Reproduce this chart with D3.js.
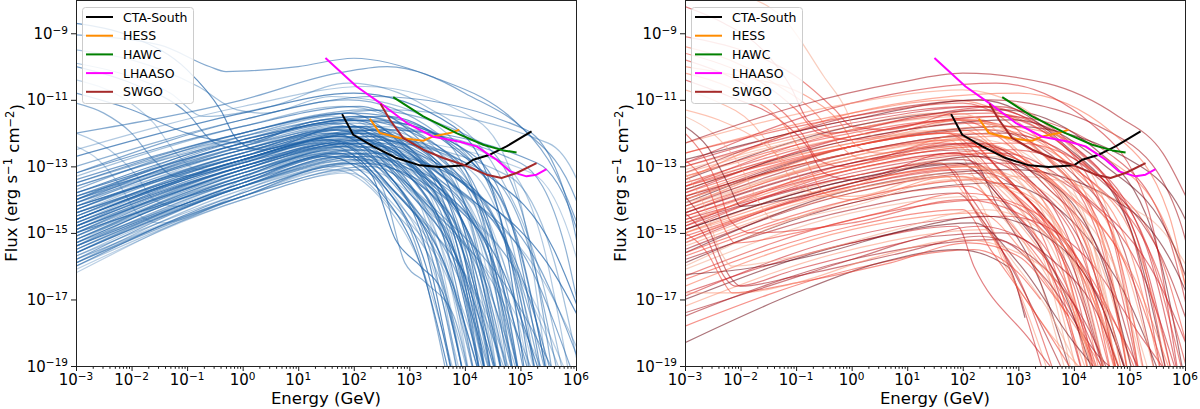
<!DOCTYPE html>
<html><head><meta charset="utf-8">
<script src="https://cdn.jsdelivr.net/npm/d3@7"></script>
<style>body{margin:0;background:#fff}svg{display:block}text{font-family:"DejaVu Sans",sans-serif;fill:#000}</style>
</head><body><svg id="c" width="1200" height="409"></svg>
<script>
// ---------- DATA (log10 E [GeV], log10 flux [erg s^-1 cm^-2]) ----------
const energyTicks = [-3,-2,-1,0,1,2,3,4,5,6];
const fluxTicks = [-19,-17,-15,-13,-11,-9];
const instruments = ["CTA-South","HESS","HAWC","LHAASO","SWGO"];

const ctaSouth = [[1.79,-11.43],[1.99,-12.05],[2.35,-12.40],[2.77,-12.75],[3.19,-12.97],[3.55,-13.02],[4.0,-12.97],[4.15,-12.80],[4.45,-12.65],[4.75,-12.4],[5.2,-11.95]];
const hess = [[2.29,-11.57],[2.47,-12.0],[2.83,-12.15],[3.25,-12.23],[3.43,-12.10],[3.73,-12.0],[3.90,-11.9]];
const hawc = [[2.71,-10.92],[3.25,-11.5],[3.85,-12.0],[4.33,-12.35],[4.69,-12.52],[4.93,-12.58]];
const lhaaso = [[1.49,-9.74],[2.05,-10.6],[2.47,-11.09],[2.95,-11.69],[3.43,-12.11],[3.91,-12.26],[4.21,-12.40],[4.57,-12.80],[4.81,-13.15],[5.11,-13.30],[5.29,-13.25],[5.47,-13.08]];
const swgo = [[2.48,-11.12],[2.65,-11.6],[2.89,-12.15],[3.25,-12.5],[3.61,-12.75],[3.97,-12.95],[4.39,-13.25],[4.66,-13.35],[4.93,-13.2],[5.29,-12.9]];

// left panel spectra (x,y pairs flattened)
const blueCurves = [
[-3,-13.3,0,-11.8,1.8,-11.2,3.3,-12.2,4.1,-14.7,4.6,-19.5],
[-3,-13.5,0,-12.0,2.0,-11.4,3.9,-12.4,4.7,-14.9,5.2,-19.5],
[-3,-13.6,0,-12.1,1.6,-11.5,2.8,-12.5,3.6,-15.0,4.1,-19.5],
[-3,-13.7,0,-12.0,2.2,-11.3,4.3,-12.3,5.1,-14.8,5.6,-19.5],
[-3,-13.8,0,-12.3,1.9,-11.6,3.1,-12.6,3.9,-15.1,4.4,-19.5],
[-3,-13.9,0,-12.4,1.5,-11.7,2.6,-12.7,3.4,-15.2,3.9,-19.5],
[-3,-14.0,0,-12.2,2.1,-11.5,3.6,-12.5,4.4,-15.0,4.9,-19.5],
[-3,-14.0,0,-12.5,1.7,-11.8,3.0,-12.8,3.8,-15.3,4.3,-19.5],
[-3,-14.1,0,-12.3,2.3,-11.6,4.1,-12.6,4.9,-15.1,5.4,-19.5],
[-3,-14.1,0,-12.6,1.8,-11.9,2.7,-12.9,3.5,-15.4,4.0,-19.5],
[-3,-14.2,0,-12.4,2.0,-11.7,3.4,-12.7,4.2,-15.2,4.7,-19.5],
[-3,-14.2,0,-12.7,1.6,-12.0,2.5,-13.0,3.3,-15.5,3.8,-19.5],
[-3,-14.3,0,-12.5,2.4,-11.8,4.6,-12.8,5.4,-15.3,5.9,-19.5],
[-3,-14.3,0,-12.6,1.9,-11.9,3.2,-12.9,4.0,-15.4,4.5,-19.5],
[-3,-14.4,0,-12.6,2.2,-11.8,3.7,-12.8,4.5,-15.3,5.0,-19.5],
[-3,-14.4,0,-12.8,1.7,-12.1,2.9,-13.1,3.7,-15.6,4.2,-19.5],
[-3,-14.5,0,-12.7,2.0,-12.0,3.5,-13.0,4.3,-15.5,4.8,-19.5],
[-3,-14.5,0,-12.7,2.5,-11.9,5.0,-12.9,5.8,-15.4,6.3,-19.5],
[-3,-14.6,0,-12.8,1.8,-12.1,3.1,-13.1,3.9,-15.6,4.4,-19.5],
[-3,-14.6,0,-12.8,2.1,-12.0,4.0,-13.0,4.8,-15.5,5.3,-19.5],
[-3,-14.7,0,-12.9,1.6,-12.2,2.6,-13.2,3.4,-15.7,3.9,-19.5],
[-3,-14.7,0,-12.8,2.3,-12.0,3.3,-13.0,4.1,-15.5,4.6,-19.5],
[-3,-14.8,0,-13.0,1.9,-12.2,3.8,-13.2,4.6,-15.7,5.1,-19.5],
[-3,-14.8,0,-12.9,2.0,-12.1,2.8,-13.1,3.6,-15.6,4.1,-19.5],
[-3,-14.9,0,-13.0,2.2,-12.2,4.4,-13.2,5.2,-15.7,5.7,-19.5],
[-3,-14.9,0,-13.1,1.7,-12.3,3.0,-13.3,3.8,-15.8,4.3,-19.5],
[-3,-15.0,0,-13.1,2.0,-12.3,3.6,-13.3,4.4,-15.8,4.9,-19.5],
[-3,-15.0,0,-13.0,2.4,-12.1,4.2,-13.1,5.0,-15.6,5.5,-19.5],
[-3,-15.1,0,-13.2,1.8,-12.4,2.7,-13.4,3.5,-15.9,4.0,-19.5],
[-3,-15.1,0,-13.1,2.1,-12.3,3.4,-13.3,4.2,-15.8,4.7,-19.5],
[-3,-15.2,0,-13.2,1.9,-12.4,3.9,-13.4,4.7,-15.9,5.2,-19.5],
[-3,-15.2,0,-13.2,2.3,-12.3,3.2,-13.3,4.0,-15.8,4.5,-19.5],
[-3,-15.3,0,-13.3,1.7,-12.5,2.5,-13.5,3.3,-16.0,3.8,-19.5],
[-3,-15.3,0,-13.3,2.0,-12.4,3.7,-13.4,4.5,-15.9,5.0,-19.5],
[-3,-15.4,0,-13.4,2.2,-12.5,3.1,-13.5,3.9,-16.0,4.4,-19.5],
[-3,-15.4,0,-13.2,2.5,-12.3,4.8,-13.3,5.6,-15.8,6.1,-19.5],
[-3,-15.5,0,-13.5,1.9,-12.6,3.5,-13.6,4.3,-16.1,4.8,-19.5],
[-3,-15.5,0,-13.4,2.1,-12.5,2.9,-13.5,3.7,-16.0,4.2,-19.5],
[-3,-15.6,0,-13.5,2.3,-12.6,4.1,-13.6,4.9,-16.1,5.4,-19.5],
[-3,-15.6,0,-13.6,1.8,-12.7,3.3,-13.7,4.1,-16.2,4.6,-19.5],
[-3,-15.7,0,-13.6,2.0,-12.7,2.65,-13.7,3.45,-16.2,3.95,-19.5],
[-3,-15.8,0,-13.6,2.2,-12.7,3.7,-13.7,4.5,-16.2,5.0,-19.5],
[-3,-15.9,0,-13.7,2.4,-12.8,3.1,-13.8,3.9,-16.3,4.4,-19.5],
[-3,-16.0,0,-13.8,2.1,-12.9,3.6,-13.9,4.4,-16.4,4.9,-19.5],
[-3,-16.2,0,-13.9,2.3,-12.9,4.0,-13.9,4.8,-16.4,5.3,-19.5],
[-3,-13.0,0,-11.6,1.9,-11.0,3.5,-12.0,4.3,-14.5,4.8,-19.5],
[-3,-12.7,0,-11.4,2.0,-10.8,3.8,-11.8,4.6,-14.3,5.1,-19.5],
[-3,-12.5,0,-11.2,2.2,-10.6,4.2,-11.6,5.0,-14.1,5.5,-19.5],
[-3,-13.2,0,-11.6,2.4,-10.9,5.1,-11.9,5.9,-14.4,6.4,-19.5],
[-3,-14.0,0,-12.1,2.6,-11.3,5.5,-12.3,6.3,-14.8,6.8,-19.5],
[-3,-14.8,0,-12.8,2.6,-11.9,5.3,-12.9,6.1,-15.4,6.6,-19.5],
[-3,-15.3,0,-13.1,2.4,-12.2,5.2,-13.2,6.0,-15.7,6.5,-19.5],
[-3,-14.4,0,-12.9,1.4,-12.3,2.4,-13.3,3.2,-15.8,3.7,-19.5],
[-3,-15.0,0,-13.4,1.5,-12.7,2.45,-13.7,3.25,-16.2,3.75,-19.5],
[-3,-15.8,0,-13.9,1.6,-13.1,2.55,-14.1,3.35,-16.6,3.85,-19.5],
[-3,-14.6,0,-12.8,2.2,-12.0,3.0,-13.0,3.8,-15.5,4.3,-19.5],
[-3,-15.2,0,-13.3,2.0,-12.5,3.3,-13.5,4.1,-16.0,4.6,-19.5],
[-3,-13.9,0,-12.3,2.0,-11.6,3.7,-12.6,4.5,-15.1,5.0,-19.5],
[-3,-14.5,0,-12.9,1.8,-12.2,3.6,-13.2,4.4,-15.7,4.9,-19.5],
[-3,-15.6,0,-13.6,2.0,-12.8,2.9,-13.8,3.7,-16.3,4.2,-19.5],
[-3,-14.2,0,-12.7,1.5,-12.2,2.7,-13.7,3.7,-16.2,4.3,-19.5],
[-3,-14.8,0,-13.2,1.6,-12.6,2.8,-14.1,3.8,-16.6,4.4,-19.5],
[-3,-13.6,0,-12.2,1.8,-11.7,3.0,-13.2,4.1,-15.7,4.7,-19.5],
[-3,-15.3,0,-13.6,1.9,-12.9,3.1,-14.4,4.2,-16.9,4.8,-19.5],
[-3,-14.0,0,-12.4,2.0,-11.8,3.3,-13.3,4.5,-15.8,5.2,-19.5],
[-3,-15.8,0,-13.9,2.0,-13.1,3.2,-14.6,4.3,-17.1,4.9,-19.5],
[-3,-13.9,0,-12.5,1.7,-11.9,2.9,-13.4,3.9,-15.9,4.5,-19.5],
[-3,-14.6,0,-12.9,2.2,-12.2,3.5,-13.7,4.7,-16.2,5.4,-19.5],
[-3,-15.0,0,-13.2,2.3,-12.4,3.7,-13.9,5.0,-16.4,5.8,-19.5],
[-3,-14.3,0,-12.6,2.4,-11.9,3.9,-13.4,5.3,-15.9,6.2,-19.5],
[-3,-15.5,0,-13.6,2.1,-12.8,3.4,-14.3,4.6,-16.8,5.3,-19.5],
[-3,-13.4,0,-12.0,1.9,-11.4,3.2,-12.9,4.4,-15.4,5.0,-19.5],
[-3,-16.1,0,-14.0,2.2,-13.1,3.5,-14.6,4.8,-17.1,5.5,-19.5],
[-3,-14.9,0,-13.1,1.8,-12.4,2.9,-13.9,3.9,-16.4,4.5,-19.5],
[-3,-13.8,0,-12.2,2.6,-11.5,4.2,-13.0,5.6,-15.5,6.5,-19.5],
[-3,-15.1,0,-13.3,2.5,-12.4,4.0,-13.9,5.4,-16.4,6.3,-19.5],
[-3,-14.4,0,-12.8,1.6,-12.2,2.6,-13.5,3.5,-15.8,4.0,-19.5],
[-3,-15.7,0,-13.8,1.7,-13.0,2.7,-14.3,3.6,-16.6,4.1,-19.5],
[-3,-14.1,0,-12.5,2.1,-11.8,3.6,-13.3,4.9,-15.8,5.6,-19.5],
[-3,-15.4,0,-13.5,2.4,-12.6,3.8,-14.1,5.1,-16.6,5.9,-19.5],
[-3,-13.5,0,-12.1,2.2,-11.5,3.6,-13.0,4.8,-15.5,5.5,-19.5],
[-3,-14.7,0,-13.0,2.0,-12.3,3.0,-13.8,4.0,-16.3,4.6,-19.5],
[-3,-16.0,0,-14.0,1.9,-13.2,2.9,-14.5,3.8,-16.8,4.3,-19.5],
[-3,-14.5,0,-12.8,2.3,-12.1,3.8,-13.6,5.2,-16.1,6.0,-19.5],
[-3,-15.2,0,-13.4,2.0,-12.6,3.3,-14.1,4.4,-16.6,5.0,-19.5],
[-3,-13.2,0,-11.8,2.1,-11.2,3.5,-12.7,4.7,-15.2,5.3,-19.5],
[-3,-14.0,0,-12.5,1.9,-11.9,3.1,-13.4,4.2,-15.9,4.8,-19.5],
[-3,-15.9,0,-13.9,2.3,-13.0,3.6,-14.5,4.9,-17.0,5.7,-19.5],
[-3,-14.8,0,-13.0,2.5,-12.2,4.1,-13.7,5.6,-16.2,6.6,-19.5],
[-3,-14.3,0,-12.7,1.8,-12.0,2.9,-13.5,3.9,-16.0,4.4,-19.5],
[-3,-9.05,-1.5,-9.35,-0.6,-10.0,-0.3,-10.15,1.0,-10.0,2.0,-9.75,3.4,-10.3,5.0,-11.8,6.0,-14.0,6.3,-15.5],
[-3,-9.5,-2,-9.8,-0.8,-10.6,-0.1,-11.3,0.4,-11.4,1.6,-10.9,2.6,-11.1,4.0,-12.6,4.8,-15.0,5.3,-19.5],
[-3,-10.0,-2,-10.5,-1.0,-11.4,-0.5,-12.3,0,-12.5,1.5,-11.9,3.0,-12.6,3.8,-15.0,4.3,-19.5],
[-3,-10.4,-2.2,-10.9,-1.6,-11.7,-1.2,-12.6,-0.8,-13.1,1.0,-12.3,2.0,-12.0,3.4,-12.9,4.2,-15.4,4.7,-19.5],
[-3,-11.1,-2.5,-11.4,-2.0,-12.0,-1.6,-12.8,-1.2,-13.3,0.5,-12.6,2.1,-11.9,3.6,-12.8,4.4,-15.3,4.9,-19.5],
[-3,-8.7,-2,-9.1,-1.0,-10.1,-0.4,-11.3,-0.1,-12.2,0.3,-12.5,1.8,-11.8,3.2,-12.5,4.0,-15.0,4.5,-19.5],
[-3,-12.0,-2.4,-12.5,-1.9,-13.3,-1.6,-14.0,-1.2,-14.2,0.5,-13.0,2.0,-12.5,3.4,-13.3,4.2,-15.8,4.7,-19.5],
[-3,-12.0,0,-11.0,1.7,-10.2,2.6,-10.0,4.0,-10.8,5.5,-12.8,6.2,-15.5],
[-3,-9.9,-2.2,-10.2,-1.3,-10.8,-0.7,-11.5,0.5,-11.2,1.9,-10.5,3.3,-11.2,4.6,-13.2,5.4,-16.5,5.8,-19.5],
[-3,-10.8,-2,-11.3,-1,-12.0,0,-12.3,1.5,-11.6,2.8,-11.7,4.2,-13.0,5.0,-15.5,5.5,-19.5],
[-3,-12.4,-2.6,-12.8,-2.2,-13.6,-1.9,-14.4,-1.5,-14.7,0.5,-13.4,2.1,-12.7,3.3,-13.5,4.0,-15.7,4.4,-19.5],
[-3,-15.9,0,-13.9,1.9,-12.9,2.5,-13.6,2.92,-15.9,3.3,-16.5,3.8,-17.5,4.1,-19.5],
[-3,-15.4,0,-13.5,1.7,-12.6,2.3,-13.2,2.75,-15.2,3.2,-16.0,3.6,-16.8,4.0,-19.5]
];

// right panel spectra
const redCurves = [
[-3,-12.6,0,-11.4,1.8,-11.0,3.4,-12.2,4.4,-14.6,5.0,-19.5],
[-3,-12.9,0,-11.6,2.2,-11.2,4.0,-12.4,5.0,-14.8,5.6,-19.5],
[-3,-13.0,0,-11.8,1.5,-11.4,2.7,-12.6,3.7,-15.0,4.3,-19.5],
[-3,-13.2,0,-11.5,2.5,-11.0,4.9,-12.2,5.9,-14.6,6.5,-19.5],
[-3,-13.3,0,-12.0,1.9,-11.6,3.1,-12.8,4.1,-15.2,4.7,-19.5],
[-3,-13.4,0,-11.8,2.7,-11.3,4.4,-12.5,5.4,-14.9,6.0,-19.5],
[-3,-13.5,0,-12.3,1.6,-11.9,2.4,-13.1,3.4,-15.5,4.0,-19.5],
[-3,-13.6,0,-12.2,2.3,-11.7,3.6,-12.9,4.6,-15.3,5.2,-19.5],
[-3,-13.7,0,-12.3,2.0,-11.9,2.9,-13.1,3.9,-15.5,4.5,-19.5],
[-3,-13.8,0,-12.1,2.8,-11.5,4.7,-12.7,5.7,-15.1,6.3,-19.5],
[-3,-13.9,0,-12.6,1.7,-12.2,2.5,-13.4,3.5,-15.8,4.1,-19.5],
[-3,-14.0,0,-12.4,2.4,-11.9,3.9,-13.1,4.9,-15.5,5.5,-19.5],
[-3,-14.0,0,-12.6,2.0,-12.2,2.8,-13.4,3.8,-15.8,4.4,-19.5],
[-3,-14.1,0,-12.4,2.9,-11.8,5.2,-13.0,6.2,-15.4,6.8,-19.5],
[-3,-14.2,0,-12.8,1.8,-12.4,2.3,-13.6,3.3,-16.0,3.9,-19.5],
[-3,-14.3,0,-12.8,2.2,-12.3,3.2,-13.5,4.2,-15.9,4.8,-19.5],
[-3,-14.4,0,-12.7,2.6,-12.1,4.2,-13.3,5.2,-15.7,5.8,-19.5],
[-3,-14.5,0,-13.1,1.9,-12.6,2.6,-13.8,3.6,-16.2,4.2,-19.5],
[-3,-14.6,0,-13.0,2.4,-12.4,3.5,-13.6,4.5,-16.0,5.1,-19.5],
[-3,-14.7,0,-13.3,2.0,-12.8,3.0,-14.0,4.0,-16.4,4.6,-19.5],
[-3,-14.8,0,-12.9,3.0,-12.3,4.6,-13.5,5.6,-15.9,6.2,-19.5],
[-3,-14.9,0,-13.4,2.2,-12.9,2.6,-14.1,3.4,-16.5,4.0,-19.5],
[-3,-15.0,0,-13.3,2.5,-12.7,3.8,-13.9,4.8,-16.3,5.4,-19.5],
[-3,-15.1,0,-13.6,1.8,-13.1,2.2,-14.3,3.1,-16.7,3.7,-19.5],
[-3,-15.2,0,-13.5,2.3,-13.0,3.3,-14.2,4.3,-16.6,4.9,-19.5],
[-3,-15.3,0,-13.5,2.7,-12.9,4.3,-14.1,5.3,-16.5,5.9,-19.5],
[-3,-15.4,0,-13.8,2.0,-13.3,2.7,-14.5,3.7,-16.9,4.3,-19.5],
[-3,-15.5,0,-13.8,2.4,-13.2,3.4,-14.4,4.4,-16.8,5.0,-19.5],
[-3,-15.7,0,-14.1,2.1,-13.6,2.9,-14.8,3.9,-17.2,4.5,-19.5],
[-3,-15.9,0,-14.1,2.6,-13.5,4.0,-14.7,5.0,-17.1,5.6,-19.5],
[-3,-16.1,0,-14.4,2.2,-13.9,2.6,-15.1,3.6,-17.5,4.2,-19.5],
[-3,-16.3,0,-14.6,2.5,-14.0,3.7,-15.2,4.7,-17.6,5.3,-19.5],
[-3,-16.6,0,-14.9,2.3,-14.4,3.1,-15.6,4.1,-18.0,4.7,-19.5],
[-3,-16.9,0,-15.1,2.8,-14.5,4.2,-15.7,5.2,-18.1,5.8,-19.5],
[-3,-17.2,0,-15.5,2.4,-14.9,2.8,-16.1,3.8,-18.5,4.4,-19.5],
[-3,-17.5,0,-15.8,2.6,-15.2,3.5,-16.4,4.5,-18.8,5.1,-19.5],
[-3,-17.8,0,-16.1,2.2,-15.5,3.0,-16.2,3.4,-17.0],
[-3,-18.3,-1,-16.8,0.5,-15.9,1.9,-15.5,2.8,-16.0,3.12,-17.55],
[-3,-13.1,0,-11.9,2.0,-11.5,3.3,-12.7,4.3,-15.1,4.9,-19.5],
[-3,-13.6,0,-11.9,2.5,-11.4,4.1,-12.6,5.1,-15.0,5.7,-19.5],
[-3,-14.2,0,-12.4,2.7,-11.8,4.8,-13.0,5.8,-15.4,6.4,-19.5],
[-3,-14.6,0,-13.3,1.6,-12.9,2.0,-13.6,2.9,-16.3,3.5,-19.5],
[-3,-15.0,0,-13.7,1.7,-13.3,2.1,-14.0,3.0,-16.7,3.6,-19.5],
[-3,-14.4,0,-12.9,2.1,-12.5,3.0,-13.7,4.0,-16.1,4.6,-19.5],
[-3,-13.8,0,-12.4,1.8,-12.0,2.7,-13.2,3.7,-15.6,4.3,-19.5],
[-3,-15.6,0,-13.7,2.9,-13.1,5.0,-14.3,6.0,-16.7,6.6,-19.5],
[-3,-16.0,0,-14.0,3.0,-13.3,5.3,-14.5,6.3,-16.9,6.9,-19.5],
[-3,-14.9,0,-13.1,2.9,-12.5,4.5,-13.7,5.5,-16.1,6.1,-19.5],
[-3,-13.4,0,-11.4,3.0,-10.8,4.7,-12.0,5.7,-14.4,6.3,-19.5],
[-3,-12.9,0,-11.1,2.6,-10.5,4.3,-11.7,5.3,-14.1,5.9,-19.5],
[-3,-12.3,0,-11.1,2.0,-10.7,3.6,-11.9,4.6,-14.3,5.2,-19.5],
[-3,-15.8,0,-14.3,1.9,-13.8,2.3,-14.5,3.3,-17.4,3.9,-19.5],
[-3,-16.4,0,-14.8,2.0,-14.3,2.5,-15.5,3.5,-17.9,4.1,-19.5],
[-3,-17.0,0,-15.3,2.2,-14.7,3.0,-15.9,4.0,-18.3,4.6,-19.5],
[-3,-14.3,0,-12.7,2.3,-12.2,3.7,-13.4,4.7,-15.8,5.3,-19.5],
[-3,-15.2,0,-13.6,2.1,-13.1,2.9,-14.3,3.9,-16.7,4.5,-19.5],
[-3,-13.9,0,-12.4,2.6,-11.9,4.0,-13.1,5.0,-15.5,5.6,-19.5],
[-3,-16.8,0,-15.3,1.9,-14.8,2.2,-16.0,3.2,-18.2,3.8,-19.5],
[-3,-13.3,0,-12.1,2.2,-11.6,3.6,-12.9,4.8,-15.4,5.5,-19.5],
[-3,-13.9,0,-12.6,2.0,-12.1,3.2,-13.4,4.3,-15.9,5.0,-19.5],
[-3,-14.5,0,-13.0,2.4,-12.4,3.8,-13.7,5.0,-16.2,5.7,-19.5],
[-3,-12.8,0,-11.6,2.3,-11.0,3.8,-12.3,5.0,-14.8,5.7,-19.5],
[-3,-14.1,0,-12.8,1.8,-12.4,2.8,-13.7,3.8,-16.2,4.4,-19.5],
[-3,-13.5,0,-12.1,2.6,-11.5,4.1,-12.8,5.3,-15.3,6.0,-19.5],
[-3,-15.0,0,-13.5,2.1,-13.0,3.2,-14.3,4.3,-16.8,4.9,-19.5],
[-3,-14.8,0,-13.2,2.7,-12.6,4.2,-13.9,5.5,-16.4,6.3,-19.5],
[-3,-13.2,0,-11.9,1.9,-11.4,3.1,-12.7,4.2,-15.2,4.8,-19.5],
[-3,-14.4,0,-12.9,2.3,-12.3,3.5,-13.6,4.6,-16.1,5.2,-19.5],
[-3,-15.6,0,-14.0,2.3,-13.4,3.5,-14.7,4.6,-17.2,5.2,-19.5],
[-3,-13.7,0,-12.2,2.9,-11.6,4.5,-12.9,5.8,-15.4,6.6,-19.5],
[-3,-14.0,0,-12.6,2.1,-12.1,3.0,-13.4,4.0,-15.9,4.6,-19.5],
[-3,-12.6,0,-11.5,2.0,-11.1,3.3,-12.4,4.4,-14.9,5.0,-19.5],
[-3,-14.7,0,-13.1,2.5,-12.6,3.9,-13.9,5.1,-16.4,5.8,-19.5],
[-3,-13.0,0,-11.7,2.4,-11.2,3.9,-12.5,5.1,-15.0,5.8,-19.5],
[-3,-15.3,0,-13.7,2.0,-13.2,2.9,-14.5,3.9,-17.0,4.5,-19.5],
[-3,-14.2,0,-12.6,2.7,-12.0,4.4,-13.3,5.6,-15.8,6.4,-19.5],
[-3,-13.6,0,-12.4,1.7,-12.0,2.6,-13.3,3.6,-15.8,4.2,-19.5],
[-3,-14.9,0,-13.4,1.9,-12.9,2.8,-14.2,3.8,-16.7,4.4,-19.5],
[-3,-7.3,-2,-7.8,-1.2,-8.6,-0.5,-10.3,-0.1,-11.3,0.05,-11.9,0.5,-12.1,2.0,-11.6,3.2,-12.3,4.2,-14.5,4.8,-19.5],
[-3,-9.1,-2,-9.5,-1.0,-10.3,-0.3,-11.3,0,-11.8,0.6,-11.9,2.2,-11.3,3.5,-12.0,4.6,-14.6,5.2,-19.5],
[-3,-9.4,-2.2,-9.8,-1.3,-10.6,-0.6,-11.5,-0.2,-12.4,0.3,-12.8,2.0,-12.2,3.3,-13.0,4.3,-15.5,4.8,-19.5],
[-3,-10.4,-2.2,-10.9,-1.3,-11.6,-0.8,-12.4,-0.5,-13.2,0,-13.4,1.8,-12.6,3.0,-13.2,4.0,-15.6,4.6,-19.5],
[-3,-10.7,-2.5,-11.0,-1.8,-11.7,-1.3,-12.8,-1.0,-13.6,-0.6,-13.8,1.5,-12.9,2.8,-13.3,3.8,-15.8,4.3,-19.5],
[-3,-13.9,-2.6,-14.8,-2.2,-16.3,-2.0,-16.6,-1,-16.3,0.9,-15.6,2.3,-15.1,3.3,-15.8,4.3,-18.0,4.7,-19.5],
[-3,-12.8,-2.6,-13.6,-2.25,-15.0,-2.1,-15.3,-1,-15.0,0.5,-14.4,2.0,-13.8,3.2,-14.3,4.2,-16.5,4.7,-19.5],
[-3,-16.25,-2,-16.1,-0.5,-15.6,1,-14.9,2.4,-14.5,3.5,-15.1,4.5,-17.2,5.0,-19.5],
[-3,-11.5,-2.5,-12.0,-2.0,-13.0,-1.7,-14.0,-1.4,-14.6,0,-14.2,1.8,-13.4,3.0,-13.8,4.1,-16.2,4.6,-19.5],
[-3,-12.0,-2.7,-12.6,-2.4,-13.6,-2.2,-14.6,-1.8,-15.0,0,-14.7,2,-14.0,3.1,-14.5,4.0,-16.6,4.4,-19.5],
[-3,-10.0,-2,-10.3,-0.8,-10.9,-0.2,-11.7,0.1,-12.4,0.5,-12.6,2.1,-12.0,3.4,-12.6,4.5,-15.1,5.0,-19.5],
[-3,-8.2,-2.3,-8.7,-1.6,-9.5,-1.1,-10.6,-0.8,-11.6,-0.4,-12.0,1.2,-11.5,2.6,-11.2,4.0,-12.4,5.3,-15.4,5.9,-19.5],
[-3,-11.3,-2.4,-11.6,-1.6,-12.3,-1.0,-13.2,-0.6,-13.9,0,-13.9,2,-13.0,3.2,-13.5,4.4,-16.0,4.9,-19.5],
[-3,-12.3,-1,-11.2,0.8,-10.5,2.0,-10.2,3.5,-10.5,4.8,-11.5,5.6,-12.6,6.1,-14.2],
[-3,-15.0,-2.6,-15.6,-2.3,-16.5,-2.15,-16.8,-1,-16.5,0.7,-15.9,2.1,-15.3,3.0,-15.7,3.6,-16.8,3.9,-17.5],
[-3,-11.8,-2.6,-12.4,-2.2,-13.6,-2.0,-14.2,-1.2,-14.0,0.5,-13.3,2.2,-12.7,3.4,-13.3,4.5,-15.8,5.1,-19.5],
[-3,-13.2,-2.7,-14.0,-2.35,-15.6,-2.15,-16.0,-1.0,-15.7,0.8,-14.9,2.4,-14.3,3.4,-14.9,4.4,-17.2,4.9,-19.5],
[-3,-9.8,-2.2,-10.3,-1.5,-11.0,-0.9,-12.0,-0.6,-12.8,-0.2,-13.0,1.6,-12.3,3.0,-12.8,4.2,-15.3,4.8,-19.5],
[-3,-10.2,-2,-10.8,-1.2,-11.8,-0.8,-12.9,-0.5,-13.8,0,-14.0,1.8,-13.3,3.1,-13.8,4.2,-16.3,4.8,-19.5],
[-3,-14.4,-2.6,-15.2,-2.3,-16.3,-2.1,-16.6,-1.0,-16.1,0.9,-15.3,2.3,-14.8,3.2,-15.3,4.1,-17.5,4.6,-19.5],
[-3,-16.8,-2,-16.8,-1.0,-16.5,0.5,-15.7,2.0,-15.2,3.0,-15.6,3.9,-17.0,4.4,-19.5],
[-3,-17.4,-1.5,-16.6,0,-15.8,1.5,-15.1,2.7,-15.0,3.6,-15.8,4.5,-17.7,4.9,-19.5],
[-3,-9.6,-2.4,-9.9,-1.6,-10.5,-1.0,-11.3,-0.6,-12.0,0,-12.2,2,-11.6,3.3,-12.1,4.6,-14.6,5.3,-19.5]
];

const instSeries = [ctaSouth, hess, hawc, lhaaso, swgo];

// ---------- STYLE ----------
const instColors = ["#000000","#ff8c00","#008000","#ff00ff","#a52a2a"];
const blueOps = [0.4,0.6,0.3,0.5,0.7,0.35,0.55];
const redCols = ["#fb6a4a","#cb181d","#fc9272","#a50f15","#ef3b2c","#67000d","#f4a58a","#de2d26"];

const svg = d3.select("#c");
const PW = 500, plotTop = 0, plotBottom = 366;
const pairs = a => d3.range(0, a.length, 2).map(i => [a[i], a[i+1]]);

function panel(x0, curves, strokeFn, opFn, pid) {
  const x = d3.scaleLog().domain([1e-3, 1e6]).range([x0, x0 + PW]);
  const y = d3.scaleLog().domain([1e-19, 1e-8]).range([plotBottom, plotTop]);
  const g = svg.append("g");
  g.append("clipPath").attr("id", "clip" + pid).append("rect")
    .attr("x", x0).attr("y", plotTop).attr("width", PW).attr("height", plotBottom - plotTop);
  const line = d3.line().x(d => x(Math.pow(10, d[0]))).y(d => y(Math.pow(10, d[1]))).curve(d3.curveMonotoneX);
  const cg = g.append("g").attr("clip-path", `url(#clip${pid})`);
  cg.selectAll("path.sp").data(curves).join("path").attr("class", "sp")
    .attr("d", d => line(pairs(d))).attr("fill", "none")
    .attr("stroke", (d, i) => strokeFn(i)).attr("stroke-opacity", (d, i) => opFn(i))
    .attr("stroke-width", 1.2);
  const lin = d3.line().x(d => x(Math.pow(10, d[0]))).y(d => y(Math.pow(10, d[1])));
  instSeries.forEach((s, i) => {
    cg.append("path").attr("d", lin(s)).attr("fill", "none")
      .attr("stroke", instColors[i]).attr("stroke-width", 2).attr("stroke-linejoin", "round");
  });
  const xa = g.append("g").attr("transform", `translate(0,${plotBottom})`);
  const minor = [];
  energyTicks.slice(0, -1).forEach(e => { for (let k = 2; k <= 9; k++) minor.push(k * Math.pow(10, e)); });
  xa.append("g").call(d3.axisBottom(x).tickValues(minor).tickSize(2.8).tickFormat(""));
  xa.append("g").call(d3.axisBottom(x).tickValues(energyTicks.map(e => Math.pow(10, e))).tickSize(5).tickFormat(""));
  xa.selectAll(".domain").remove();
  xa.selectAll("line").attr("stroke", "#000").attr("stroke-width", 0.9);
  energyTicks.forEach(e => {
    const t = g.append("text").attr("x", x(Math.pow(10, e))).attr("y", 385).attr("text-anchor", "middle").attr("font-size", 15);
    t.append("tspan").text("10");
    t.append("tspan").attr("dy", "-0.5em").attr("font-size", 10.5).text(e < 0 ? "\u2212" + (-e) : String(e));
  });
  const ya = g.append("g").attr("transform", `translate(${x0},0)`);
  ya.call(d3.axisLeft(y).tickValues(fluxTicks.map(e => Math.pow(10, e))).tickSize(5).tickFormat(""));
  ya.selectAll(".domain").remove();
  ya.selectAll("line").attr("stroke", "#000").attr("stroke-width", 0.9);
  fluxTicks.forEach(e => {
    const t = g.append("text").attr("x", x0 - 8).attr("y", y(Math.pow(10, e)) + 5.5).attr("text-anchor", "end").attr("font-size", 15);
    t.append("tspan").text("10");
    t.append("tspan").attr("dy", "-0.5em").attr("font-size", 10.5).text("\u2212" + (-e));
  });
  g.append("rect").attr("x", x0 + 0.5).attr("y", plotTop + 0.5).attr("width", PW).attr("height", plotBottom - plotTop)
    .attr("fill", "none").attr("stroke", "#222").attr("stroke-width", 1);
  g.append("text").attr("x", x0 + PW / 2).attr("y", 404).attr("text-anchor", "middle").attr("font-size", 16.5).text("Energy (GeV)");
  const yl = g.append("text").attr("transform", `translate(${x0 - 59},${(plotTop + plotBottom) / 2}) rotate(-90)`)
    .attr("text-anchor", "middle").attr("font-size", 16.5);
  yl.append("tspan").text("Flux (erg s");
  yl.append("tspan").attr("dy", "-0.45em").attr("font-size", 11.5).text("\u22121");
  yl.append("tspan").attr("dy", "0.45em").text(" cm");
  yl.append("tspan").attr("dy", "-0.45em").attr("font-size", 11.5).text("\u22122");
  yl.append("tspan").attr("dy", "0.45em").text(")");
  const lg = g.append("g").attr("transform", `translate(${x0 + 6},7)`);
  lg.append("rect").attr("x", 0.5).attr("y", 0.5).attr("width", 111).attr("height", 96).attr("rx", 3)
    .attr("fill", "#fff").attr("fill-opacity", 0.85).attr("stroke", "#ccc");
  instruments.forEach((name, i) => {
    const yy = 10 + i * 18.7;
    lg.append("line").attr("x1", 4).attr("x2", 31).attr("y1", yy).attr("y2", yy)
      .attr("stroke", instColors[i]).attr("stroke-width", 2);
    lg.append("text").attr("x", 41).attr("y", yy + 4.5).attr("font-size", 12.5).text(name);
  });
}

panel(76, blueCurves, i => "#1f63a8", i => blueOps[i % blueOps.length], "L");
panel(685, redCurves, i => redCols[i % redCols.length], i => 0.55, "R");
</script></body></html>
